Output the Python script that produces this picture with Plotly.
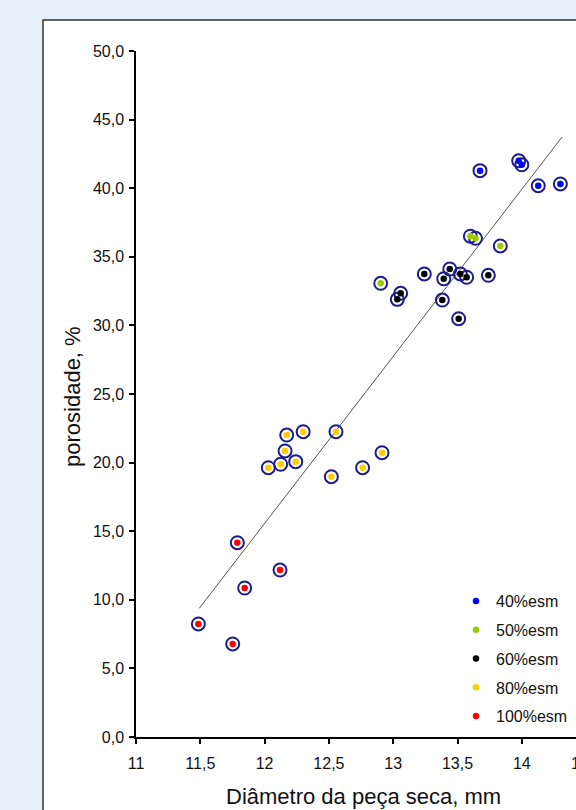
import plotly.graph_objects as go

# Diameter of the dried piece (mm) and porosity (%) per moisture level
x_40 = [13.675, 13.976, 14.000, 14.128, 14.300]
y_40 = [41.28, 42.00, 41.71, 40.18, 40.31]

x_50 = [12.903, 13.600, 13.640, 13.833]
y_50 = [33.07, 36.50, 36.35, 35.79]

x_60 = [13.242, 13.440, 13.393, 13.522, 13.571, 13.740, 13.058, 13.032, 13.382, 13.509]
y_60 = [33.75, 34.11, 33.40, 33.75, 33.51, 33.65, 32.34, 31.90, 31.85, 30.49]

x_80 = [12.172, 12.300, 12.555, 12.159, 12.029, 12.125, 12.242, 12.519, 12.762, 12.913]
y_80 = [22.01, 22.25, 22.25, 20.85, 19.63, 19.88, 20.07, 18.97, 19.63, 20.72]

x_100 = [11.788, 12.120, 11.845, 11.485, 11.752]
y_100 = [14.16, 12.17, 10.86, 8.24, 6.78]

# Linear trend line end points
trend_x = [11.492, 14.313]
trend_y = [9.38, 43.73]

series_names = ["40%esm", "50%esm", "60%esm", "80%esm", "100%esm"]
series_x = [x_40, x_50, x_60, x_80, x_100]
series_y = [y_40, y_50, y_60, y_80, y_100]
series_colors = ["#0000ff", "#99cc00", "#000000", "#ffcc00", "#ff0000"]

x_ticks = [11, 11.5, 12, 12.5, 13, 13.5, 14]
y_ticks = [0, 5, 10, 15, 20, 25, 30, 35, 40, 45, 50]

FONT = "Liberation Sans, Arial, sans-serif"

fig = go.Figure()

# trend line
fig.add_trace(go.Scatter(
    x=trend_x, y=trend_y, mode="lines",
    line=dict(color="#555555", width=1),
    showlegend=False, hoverinfo="skip",
))

# navy rings around every point
all_x = [v for xs in series_x for v in xs]
all_y = [v for ys in series_y for v in ys]
fig.add_trace(go.Scatter(
    x=all_x, y=all_y, mode="markers",
    marker=dict(symbol="circle-open", size=13, color="#1c1c8c",
                line=dict(width=2, color="#1c1c8c")),
    showlegend=False, hoverinfo="skip",
))

# coloured centre dots, one trace per moisture level
for name, xs, ys, col in zip(series_names, series_x, series_y, series_colors):
    fig.add_trace(go.Scatter(
        x=xs, y=ys, mode="markers", name=name, legendgroup=name,
        marker=dict(symbol="circle", size=6.5, color=col, line=dict(width=0)),
    ))

L, T, B = 136, 51, 73
W, H = 576, 810
pw = W - L
ph = H - T - B


def px_to_paper_x(px):
    return (px - L) / pw


def px_to_paper_y(py):
    return (H - B - py) / ph


shapes = [
    # white chart panel with dark frame
    dict(type="rect", xref="paper", yref="paper", layer="below",
         x0=px_to_paper_x(43), x1=px_to_paper_x(640),
         y0=px_to_paper_y(900), y1=px_to_paper_y(20),
         fillcolor="white", line=dict(color="#333333", width=1.5)),
]

annotations = [
    dict(text="Diâmetro da peça seca, mm", xref="paper", yref="paper",
         x=px_to_paper_x(363), y=px_to_paper_y(796), xanchor="center",
         yanchor="middle", showarrow=False,
         font=dict(family=FONT, size=22, color="#111111")),
    dict(text="porosidade, %", xref="paper", yref="paper",
         x=px_to_paper_x(73), y=px_to_paper_y(397), xanchor="center",
         yanchor="middle", textangle=-90, showarrow=False,
         font=dict(family=FONT, size=22, color="#111111")),
    # tick label of 14,5 running past the right edge
    dict(text="14,5", xref="paper", yref="paper",
         x=px_to_paper_x(586), y=px_to_paper_y(763), xanchor="center",
         yanchor="middle", showarrow=False,
         font=dict(family=FONT, size=16, color="#111111")),
]

fig.update_layout(
    width=W, height=H,
    margin=dict(l=L, r=0, t=T, b=B),
    paper_bgcolor="#e6f0fa",
    plot_bgcolor="rgba(0,0,0,0)",
    separators=",.",
    font=dict(family=FONT, size=16, color="#111111"),
    shapes=shapes,
    annotations=annotations,
    legend=dict(
        x=px_to_paper_x(456), y=px_to_paper_y(584),
        xanchor="left", yanchor="top",
        bgcolor="rgba(0,0,0,0)", borderwidth=0,
        font=dict(family=FONT, size=16, color="#111111"),
        traceorder="grouped", tracegroupgap=5,
        itemwidth=30,
    ),
    xaxis=dict(
        range=[11, 11 + pw / 128.6],
        tickvals=x_ticks, ticktext=[f"{v:g}".replace(".", ",") for v in x_ticks],
        showgrid=False, zeroline=False,
        showline=True, linecolor="#000000", linewidth=1.5,
        ticks="outside", ticklen=5, tickwidth=1.5, tickcolor="#000000",
        ticklabelstandoff=6,
        tickfont=dict(family=FONT, size=16, color="#111111"),
    ),
    yaxis=dict(
        range=[0, 50],
        tickvals=y_ticks, tickformat=".1f",
        showgrid=False, zeroline=False,
        showline=True, linecolor="#000000", linewidth=1.5,
        ticks="outside", ticklen=5, tickwidth=1.5, tickcolor="#000000",
        ticklabelstandoff=2,
        tickfont=dict(family=FONT, size=16, color="#111111"),
    ),
)

fig.write_html("out.html")
